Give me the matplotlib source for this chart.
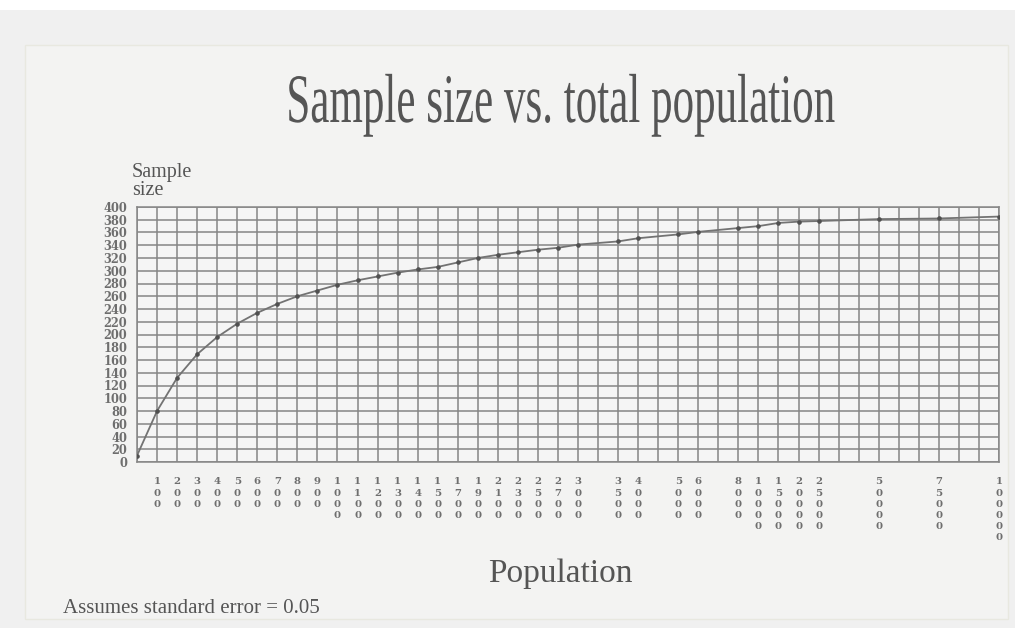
import numpy as np
import pandas as pd
import matplotlib
matplotlib.use("Agg")
import matplotlib.pyplot as plt
from matplotlib.patches import Rectangle
from matplotlib.patheffects import AbstractPathEffect
from matplotlib.transforms import Affine2D

# ---------------- data ----------------
# grid columns of the chart (index = column); "" = unlabelled column
population_labels = ["", "100", "200", "300", "400", "500", "600", "700", "800", "900",
                     "1000", "1100", "1200", "1300", "1400", "1500", "1700", "1900",
                     "2100", "2300", "2500", "2700", "3000", "", "3500", "4000", "",
                     "5000", "6000", "", "8000", "10000", "15000", "20000", "25000",
                     "", "", "50000", "", "", "75000", "", "", "100000"]
# sample size read at each column (nan = no point on that column)
sample_sizes = [10, 80, 132, 169, 196, 217, 234, 248, 260, 269,
                278, 285, 291, 297, 302, 306, 313, 320,
                325, 329, 333, 336, 341, np.nan, 346, 351, np.nan,
                357, 361, np.nan, 367, 370, 375, 377, 378,
                np.nan, np.nan, 381, np.nan, np.nan, 382, np.nan, np.nan, 385]
y_ticks = list(range(0, 401, 20))

title = "Sample size vs. total population"
x_title = "Population"
y_title_1 = "Sample"
y_title_2 = "size"
note = "Assumes standard error = 0.05"

# ---------------- style ----------------
W, H = 1015, 628
SERIF = ["Liberation Serif", "DejaVu Serif"]
TXT = "#555555"
GRID = "#868686"


class HStretch(AbstractPathEffect):
    """Condense glyphs horizontally around a fixed display x."""
    def __init__(self, sx, cx):
        super().__init__()
        self.sx = sx
        self.cx = cx

    def draw_path(self, renderer, gc, tpath, affine, rgbFace=None):
        aff = affine + Affine2D().translate(-self.cx, 0).scale(self.sx, 1).translate(self.cx, 0)
        renderer.draw_path(gc, tpath, aff, rgbFace)


fig = plt.figure(figsize=(W / 100, H / 100), dpi=100)
fig.patch.set_facecolor("#f0f0f0")

# top white strip and light panel
fig.patches.append(Rectangle((0, 1 - 10 / H), 1, 10 / H, transform=fig.transFigure,
                             facecolor="white", edgecolor="none", zorder=-3))
fig.patches.append(Rectangle((25 / W, 1 - 619 / H), (1008 - 25) / W, (619 - 45) / H,
                             transform=fig.transFigure, facecolor="#f3f3f2",
                             edgecolor="#e8e8e0", lw=1.0, zorder=-2))

ax = fig.add_axes([137 / W, 1 - 462 / H, (999 - 137) / W, (462 - 207) / H])
ax.set_facecolor("#f5f5f5")

x = np.arange(len(population_labels))
s = pd.Series(sample_sizes, index=x).dropna()
ax.plot(s.index, s.values, color="#737373", lw=1.3, zorder=3,
        marker="o", ms=2.3, mfc="#505050", mec="#505050")

ax.set_xlim(0, len(population_labels) - 1)
ax.set_ylim(0, 400)
ax.set_xticks(x)
ax.set_xticklabels(["\n".join(lbl) for lbl in population_labels],
                   fontfamily="DejaVu Serif", fontsize=7.3, fontweight="bold",
                   color="#6e6e6e", linespacing=1.32)
ax.set_yticks(y_ticks)
ax.set_yticklabels([str(v) for v in y_ticks], fontfamily="DejaVu Serif",
                   fontsize=8.3, fontweight="bold", color="#6e6e6e")
ax.tick_params(axis="both", length=0)
ax.tick_params(axis="x", pad=11)
ax.tick_params(axis="y", pad=7)
ax.grid(True, color=GRID, lw=1.1, zorder=1)
ax.set_axisbelow(True)
for sp in ax.spines.values():
    sp.set_color(GRID)
    sp.set_linewidth(1.1)

# texts
cx = 561
fig.text(cx / W, 1 - 122 / H, title, ha="center", va="baseline",
         fontfamily=SERIF, fontsize=50, color=TXT,
         path_effects=[HStretch(0.62, cx)])
fig.text(132 / W, 1 - 177 / H, y_title_1, ha="left", va="baseline",
         fontfamily=SERIF, fontsize=14.5, color=TXT)
fig.text(132 / W, 1 - 195 / H, y_title_2, ha="left", va="baseline",
         fontfamily=SERIF, fontsize=14.5, color=TXT)
fig.text(560.5 / W, 1 - 582 / H, x_title, ha="center", va="baseline",
         fontfamily=SERIF, fontsize=24, color=TXT)
fig.text(63 / W, 1 - 613 / H, note, ha="left", va="baseline",
         fontfamily=SERIF, fontsize=15, color=TXT)

fig.savefig("out.png", dpi=100, facecolor=fig.get_facecolor())
